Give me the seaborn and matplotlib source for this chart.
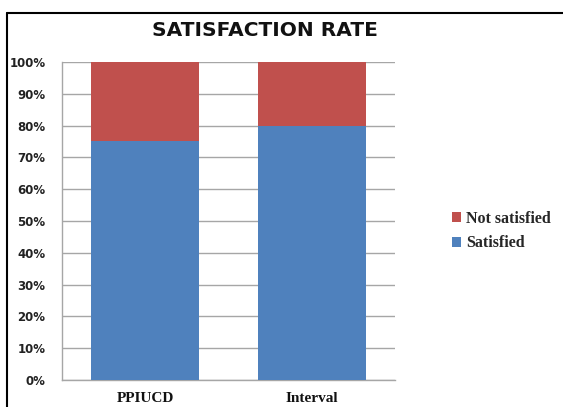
import matplotlib
matplotlib.use("Agg")
import matplotlib.pyplot as plt
import seaborn as sns
import pandas as pd
from matplotlib.lines import Line2D
from matplotlib.patches import Patch

categories = ["PPIUCD", "Interval"]
satisfied = [75, 80]
not_satisfied = [25, 20]
yticks = [0, 10, 20, 30, 40, 50, 60, 70, 80, 90, 100]

blue = "#4F81BD"
red = "#C0504D"

sns.set_theme(style="white")
plt.rcParams['font.family'] = ['DejaVu Sans']

fig = plt.figure(figsize=(5.63, 4.07), dpi=100)
ax = fig.add_axes([62/563, 1-380/407, (395-62)/563, (380-62)/407])

df = pd.DataFrame({"cat": categories,
                   "sat": satisfied,
                   "total": [s + n for s, n in zip(satisfied, not_satisfied)]})

sns.barplot(data=df, x="cat", y="total", color=red, width=0.65, ax=ax,
            saturation=1, edgecolor="none", zorder=3)
sns.barplot(data=df, x="cat", y="sat", color=blue, width=0.65, ax=ax,
            saturation=1, edgecolor="none", zorder=4)

ax.set_xlim(-0.5, 1.5)
ax.set_ylim(0, 100)
ax.set_yticks(yticks)
ax.set_yticklabels([f"{v}%" for v in yticks], fontsize=8.5, fontweight="bold",
                   color="#222222")
ax.set_xticks(range(len(categories)))
ax.set_xticklabels(categories, fontsize=11, fontweight="bold",
                   family="Liberation Serif", color="#111111")
ax.set_xlabel("")
ax.set_ylabel("")
ax.tick_params(axis="x", length=0, pad=9)
ax.tick_params(axis="y", length=0, pad=12)
ax.grid(axis="y", color="#a6a6a6", linewidth=1, zorder=0)
for s in ["top", "right"]:
    ax.spines[s].set_visible(False)
for s in ["left", "bottom"]:
    ax.spines[s].set_color("#a6a6a6")
    ax.spines[s].set_linewidth(1)

fig.text(265/563, 1-30/407, "SATISFACTION RATE", ha="center", va="center",
         fontsize=14.5, fontweight="bold", color="#111111")

handles = [Patch(facecolor=red, edgecolor="none", label="Not satisfied"),
           Patch(facecolor=blue, edgecolor="none", label="Satisfied")]
fig.legend(handles=handles, loc="center left",
           bbox_to_anchor=(438/563, 1-231/407), frameon=False,
           prop={"family": "Liberation Serif", "weight": "bold", "size": 11.5},
           handlelength=0.55, handleheight=0.55, handletextpad=0.3,
           labelspacing=0.55)

# outer frame
fig.add_artist(Line2D([7/563, 7/563], [0, 1-13/407], transform=fig.transFigure,
                      color="black", linewidth=1.5))
fig.add_artist(Line2D([7/563, 1], [1-13/407, 1-13/407], transform=fig.transFigure,
                      color="black", linewidth=1.5))

fig.savefig("out.png", dpi=100)
